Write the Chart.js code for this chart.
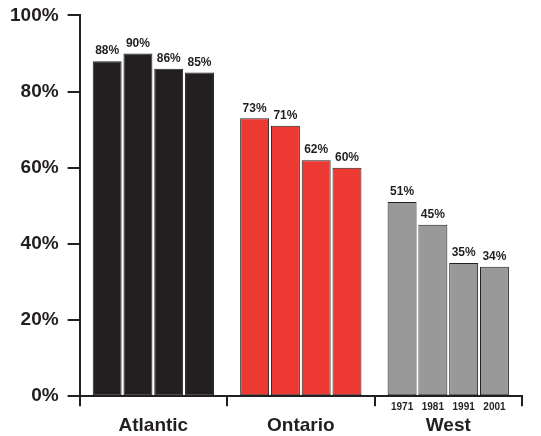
<!DOCTYPE html>
<html>
<head>
<meta charset="utf-8">
<script src="https://cdn.jsdelivr.net/npm/chart.js@4.4.1/dist/chart.umd.min.js"></script>
<style>
  html, body { margin: 0; padding: 0; background: #ffffff; }
  #wrap { width: 541px; height: 436px; }
</style>
</head>
<body>
<div id="wrap"><canvas id="c" width="541" height="436"></canvas></div>
<script>
// Regions along the x axis
const regions = ['Atlantic', 'Ontario', 'West'];
// Census years, one series each
const years = ['1971', '1981', '1991', '2001'];
// Share (%) per region, by year
const share1971 = [88, 73, 51];
const share1981 = [90, 71, 45];
const share1991 = [86, 62, 35];
const share2001 = [85, 60, 34];
// Y axis tick values
const yTicks = [0, 20, 40, 60, 80, 100];

const regionColors = ['#231f20', '#ec3a32', '#999999'];
const ink = '#231f20';
const fontFamily = '"Liberation Sans", Arial, Helvetica, sans-serif';

const seriesValues = [share1971, share1981, share1991, share2001];

const datasets = seriesValues.map((vals, i) => ({
  label: years[i],
  data: vals,
  backgroundColor: regionColors,
  borderColor: ink,
  borderWidth: 1,
  borderSkipped: false,
  categoryPercentage: 0.835,
  barPercentage: 0.94
}));

// Writes each bar's value above it, and the year labels under the West group
const barLabels = {
  id: 'barLabels',
  afterDatasetsDraw(chart) {
    const ctx = chart.ctx;
    const area = chart.chartArea;
    ctx.save();
    ctx.fillStyle = ink;
    ctx.textAlign = 'center';
    chart.data.datasets.forEach((ds, i) => {
      const meta = chart.getDatasetMeta(i);
      meta.data.forEach((bar, j) => {
        ctx.font = 'bold 12px ' + fontFamily;
        ctx.textBaseline = 'bottom';
        ctx.fillText(ds.data[j] + '%', bar.x, bar.y - 4);
      });
      const west = meta.data[regions.indexOf('West')];
      ctx.font = 'bold 10px ' + fontFamily;
      ctx.textBaseline = 'middle';
      ctx.fillText(years[i], west.x, area.bottom + 11);
    });
    ctx.restore();
  }
};

new Chart(document.getElementById('c'), {
  type: 'bar',
  data: { labels: regions, datasets },
  options: {
    responsive: false,
    animation: false,
    layout: { padding: { left: 1, right: 19, top: 0, bottom: -9 } },
    plugins: {
      legend: { display: false },
      tooltip: { enabled: false }
    },
    scales: {
      x: {
        grid: {
          offset: true,
          drawOnChartArea: false,
          drawTicks: true,
          tickLength: 10,
          color: ink,
          lineWidth: 2
        },
        border: { display: true, color: ink, width: 2 },
        ticks: {
          color: ink,
          padding: 8,
          font: { family: fontFamily, size: 19, weight: 'bold' }
        }
      },
      y: {
        min: 0,
        max: 100,
        afterBuildTicks(axis) { axis.ticks = yTicks.map(v => ({ value: v })); },
        grid: {
          drawOnChartArea: false,
          drawTicks: true,
          tickLength: 12,
          color: ink,
          lineWidth: 2
        },
        border: { display: true, color: ink, width: 2 },
        ticks: {
          color: ink,
          padding: 9,
          font: { family: fontFamily, size: 19, weight: 'bold', lineHeight: 0.68 },
          callback: v => v + '%'
        }
      }
    }
  },
  plugins: [barLabels]
});
</script>
</body>
</html>
